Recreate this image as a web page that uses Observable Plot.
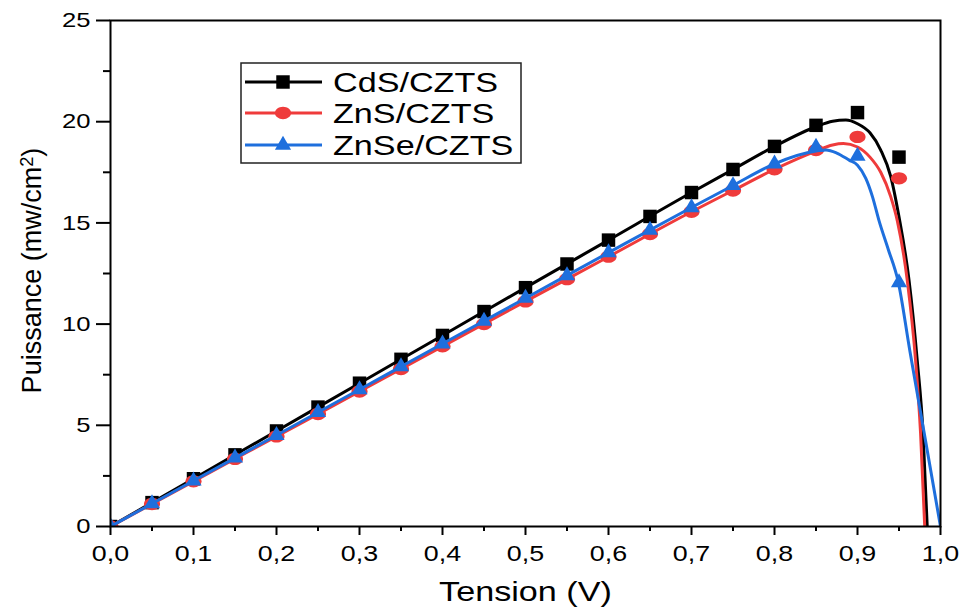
<!DOCTYPE html>
<html><head><meta charset="utf-8">
<script src="https://cdn.jsdelivr.net/npm/d3@7"></script>
<script src="https://cdn.jsdelivr.net/npm/@observablehq/plot@0.6"></script>
<style>body{margin:0;background:#fff} #chart svg{display:block}</style>
</head><body><div id="chart"></div>
<script>
// ---- data ----
const tension = [0,0.05,0.1,0.15,0.2,0.25,0.3,0.35,0.4,0.45,0.5,0.55,0.6,0.65,0.7,0.75,0.8,0.85,0.9,0.95];
const cds  = [0,1.18,2.36,3.54,4.72,5.9,7.08,8.26,9.44,10.62,11.8,12.97,14.15,15.32,16.5,17.64,18.78,19.82,20.45,18.25];
const zns  = [0,1.11,2.23,3.34,4.45,5.56,6.67,7.78,8.9,10.0,11.12,12.22,13.33,14.45,15.55,16.6,17.65,18.6,19.25,17.2];
const znse = [0,1.13,2.26,3.39,4.51,5.64,6.77,7.9,9.03,10.15,11.28,12.4,13.53,14.65,15.76,16.85,17.92,18.75,18.3,12.05];

// fitted curves as traced on the picture
const cdsCurveV  = [0,0.1,0.2,0.3,0.4,0.5,0.6,0.7,0.75,0.8,0.85,0.87,0.886,0.9,0.915,0.928,0.94,0.95,0.962,0.972,0.979,0.984];
const cdsCurveP  = [0,2.36,4.72,7.08,9.44,11.8,14.15,16.5,17.64,18.78,19.75,20.02,20.08,19.9,19.45,18.6,17.3,15.3,12.2,8.2,4.6,0];
const znsCurveV  = [0,0.1,0.2,0.3,0.4,0.5,0.6,0.7,0.75,0.8,0.85,0.87,0.883,0.9,0.915,0.928,0.94,0.948,0.96,0.97,0.976,0.981];
const znsCurveP  = [0,2.23,4.45,6.67,8.9,11.12,13.33,15.55,16.6,17.65,18.55,18.85,18.92,18.75,18.25,17.5,16.3,15.1,12.15,8.2,4.6,0];
const znseCurveV = [0,0.1,0.2,0.3,0.4,0.5,0.6,0.7,0.75,0.8,0.85,0.862,0.875,0.89,0.9,0.91,0.918,0.926,0.937,0.949,0.963,0.98,1.0];
const znseCurveP = [0,2.26,4.51,6.77,9.03,11.28,13.53,15.76,16.85,17.92,18.55,18.6,18.45,18.1,17.85,17.2,16.3,15.1,13.7,12.1,8.7,4.7,0];

const seriesNames  = ["CdS/CZTS","ZnS/CZTS","ZnSe/CZTS"];
const seriesColors = ["#000000","#ef3b3b","#1e6fdd"];
const xMajor = [0,0.1,0.2,0.3,0.4,0.5,0.6,0.7,0.8,0.9,1.0];
const xMinor = [0.05,0.15,0.25,0.35,0.45,0.55,0.65,0.75,0.85,0.95];
const yMajor = [0,5,10,15,20,25];
const yMinor = [2.5,7.5,12.5,17.5,22.5];

// ---- symbols ----
const ellipse = {draw(ctx, size){const r=Math.sqrt(size/Math.PI), rx=r*1.15, ry=r*0.88, k=0.5523;
  ctx.moveTo(rx,0); ctx.bezierCurveTo(rx,ry*k,rx*k,ry,0,ry); ctx.bezierCurveTo(-rx*k,ry,-rx,ry*k,-rx,0);
  ctx.bezierCurveTo(-rx,-ry*k,-rx*k,-ry,0,-ry); ctx.bezierCurveTo(rx*k,-ry,rx,-ry*k,rx,0); ctx.closePath();}};
const seriesSymbols = ["square", ellipse, "triangle"];
const d3Symbols = [d3.symbolSquare, ellipse, d3.symbolTriangle];
const seriesR = [7.6, 7, 6];

const series = [
  {pts: tension.map((v,i)=>({v, p: cds[i]})),  curve: cdsCurveV.map((v,i)=>({v, p: cdsCurveP[i]}))},
  {pts: tension.map((v,i)=>({v, p: zns[i]})),  curve: znsCurveV.map((v,i)=>({v, p: znsCurveP[i]}))},
  {pts: tension.map((v,i)=>({v, p: znse[i]})), curve: znseCurveV.map((v,i)=>({v, p: znseCurveP[i]}))}
];

const fmt = d => d.toFixed(1).replace(".", ",");
const tick = {stroke: "black", strokeWidth: 2};
const chart = Plot.plot({
  width: 963, height: 608,
  marginLeft: 110, marginRight: 23, marginTop: 20, marginBottom: 82,
  style: {fontFamily: '"Liberation Sans", Arial, sans-serif', color: "black", background: "white"},
  x: {domain: [0, 1]},
  y: {domain: [0, 25]},
  marks: [
    ...series.flatMap((s, i) => [
      Plot.line(s.curve, {x: "v", y: "p", stroke: seriesColors[i], strokeWidth: 3, curve: "monotone-x", clip: true}),
      Plot.dot(s.pts, {x: "v", y: "p", fill: seriesColors[i], stroke: "none", symbol: () => seriesSymbols[i], r: seriesR[i], clip: true})
    ]),
    Plot.frame({stroke: "black", strokeWidth: 2}),
    // tick marks (outside, on bottom and left)
    Plot.ruleX(xMajor, {x: d => d, y1: 0, y2: 0, insetBottom: -9, ...tick}),
    Plot.ruleX(xMinor, {x: d => d, y1: 0, y2: 0, insetBottom: -5, ...tick}),
    Plot.ruleY(yMajor, {y: d => d, x1: 0, x2: 0, insetLeft: -14, ...tick}),
    Plot.ruleY(yMinor, {y: d => d, x1: 0, x2: 0, insetLeft: -7, ...tick}),
    // tick labels
    Plot.axisX(xMajor, {tickSize: 0, tickPadding: 19, fontSize: 22, tickFormat: fmt, label: null}),
    Plot.axisY(yMajor, {tickSize: 0, tickPadding: 20, fontSize: 21, tickFormat: d => String(d), label: null}),
    Plot.text(["Tension (V)"], {frameAnchor: "bottom", lineAnchor: "middle", textAnchor: "middle", dy: 66, fontSize: 28, fill: "black"}),
    Plot.text(["Puissance (mw/cm2)"], {frameAnchor: "left", lineAnchor: "middle", textAnchor: "middle", dx: -78, dy: -3, rotate: -90, fontSize: 27, fill: "black"})
  ]
});
document.getElementById("chart").append(chart);

// superscript for the unit
chart.querySelectorAll("text").forEach(t => {
  if (t.textContent === "Puissance (mw/cm2)") {
    t.textContent = "";
    const sel = d3.select(t);
    sel.append("tspan").text("Puissance (mw/cm");
    sel.append("tspan").attr("dy", "-0.45em").attr("font-size", "0.68em").text("2");
    sel.append("tspan").attr("dy", "0.31em").text(")");
  }
});

// ---- legend ----
const svg = d3.select(chart);
const lg = svg.append("g").attr("text-anchor", "start");
lg.append("rect").attr("x", 241).attr("y", 63).attr("width", 280).attr("height", 100)
  .attr("fill", "white").attr("stroke", "#222").attr("stroke-width", 1.5);
const rowY = [82, 113, 145];
seriesNames.forEach((name, i) => {
  const g = lg.append("g");
  g.append("line").attr("x1", 245).attr("x2", 322).attr("y1", rowY[i]).attr("y2", rowY[i])
    .attr("stroke", seriesColors[i]).attr("stroke-width", 3);
  g.append("path").attr("transform", `translate(283,${rowY[i]})`)
    .attr("d", d3.symbol(d3Symbols[i], seriesR[i] * seriesR[i] * Math.PI)()).attr("fill", seriesColors[i]);
  g.append("text").attr("x", 333).attr("y", rowY[i]).attr("dy", "0.36em").attr("text-anchor", "start")
    .attr("font-size", 28).attr("fill", "black").text(name);
});

// horizontal stretch of text to match the reference's aspect
const SX = 1.22;
chart.querySelectorAll("text").forEach(t => {
  const s = t.textContent;
  if (!s || s.startsWith("Puissance") || t.children.length) return;
  const w = t.getComputedTextLength();
  if (w > 0) { t.setAttribute("textLength", w * SX); t.setAttribute("lengthAdjust", "spacingAndGlyphs"); }
});
</script></body></html>
